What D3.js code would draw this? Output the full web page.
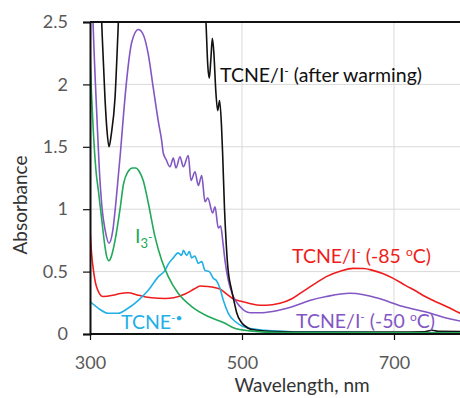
<!DOCTYPE html>
<html>
<head>
<meta charset="utf-8">
<script src="https://cdn.jsdelivr.net/npm/d3@7"></script>
<style>
  body { margin: 0; background: #fff; }
  text { font-family: Lato, "Open Sans", sans-serif; }
</style>
</head>
<body>
<div id="chart"></div>
<script>
// spectra: [wavelength nm, absorbance]
const afterWarming = [
  [300, 3.6], [310, 3.3], [313, 2.9], [316, 2.4], [319.7, 1.89], [322.5, 1.62], [325, 1.5],
  [328, 1.6], [332.9, 1.89], [337, 2.45], [340, 2.9], [345, 3.4], [440, 3.4], [449, 2.9],
  [452.6, 2.5], [455, 2.15], [457, 2.05], [459, 2.2], [461, 2.37], [463, 2.25], [465.5, 1.95],
  [468, 1.79], [470.5, 1.87], [473, 1.67], [474.6, 1.43], [477, 1.0], [479, 0.75], [481, 0.56],
  [486.4, 0.35], [490, 0.25], [493, 0.17], [499.6, 0.09], [505, 0.06], [510.5, 0.04], [520, 0.03],
  [540, 0.02], [600, 0.015], [700, 0.015], [740, 0.018], [750, 0.03], [758, 0.022], [800, 0.02]
];
const minus50 = [
  [300, 3.4], [304, 2.5], [309, 1.75], [312, 1.35], [316, 1.0], [320, 0.83], [325, 0.727],
  [330, 0.83], [334, 1.05], [337, 1.25], [340, 1.45], [344, 1.75], [348, 2.02], [355, 2.34],
  [363.6, 2.44], [370, 2.4], [376.7, 2.24], [383.3, 1.97], [390, 1.7], [394.3, 1.55],
  [396.4, 1.45], [400, 1.4], [405.3, 1.34], [409.6, 1.41], [413.2, 1.33], [418.4, 1.42],
  [422.8, 1.34], [429.3, 1.43], [432.9, 1.23], [438.2, 1.3], [442.5, 1.19], [447, 1.27],
  [451.3, 1.06], [455, 1.09], [461.4, 0.97], [464.5, 1.02], [468.8, 0.85], [472, 0.865],
  [474.6, 0.75], [477.6, 0.59], [482, 0.43], [488.6, 0.3], [497.4, 0.22], [510.5, 0.17],
  [524, 0.17], [540, 0.18], [567, 0.22], [590, 0.27], [611, 0.3], [642, 0.326], [660, 0.315],
  [677, 0.29], [712, 0.22], [748, 0.166], [770, 0.126], [800, 0.09]
];
const minus85 = [
  [300, 0.84], [302, 0.65], [305, 0.49], [309, 0.37], [317, 0.3], [330, 0.31], [340, 0.325],
  [350, 0.33], [364, 0.31], [381, 0.29], [399, 0.285], [410, 0.29], [425, 0.32], [437, 0.36],
  [445, 0.385], [455, 0.38], [465, 0.37], [471, 0.36], [480, 0.32], [489, 0.28], [500, 0.26],
  [510, 0.245], [524, 0.23], [540, 0.235], [550, 0.246], [565, 0.28], [580, 0.34], [595, 0.4],
  [611, 0.46], [630, 0.505], [646, 0.526], [660, 0.525], [672, 0.51], [685, 0.485], [699, 0.446],
  [715, 0.39], [730, 0.34], [741, 0.3], [751, 0.27], [769, 0.22], [787, 0.166], [800, 0.13]
];
const tcneRadical = [
  [300, 0.26], [311, 0.206], [324, 0.166], [337, 0.166], [350, 0.206], [363.6, 0.27],
  [376.7, 0.35], [390, 0.46], [398.7, 0.51], [403, 0.56], [409.6, 0.61], [416, 0.65],
  [420.6, 0.63], [422.8, 0.67], [427.2, 0.63], [430.7, 0.66], [433.8, 0.61], [438, 0.625],
  [442.5, 0.566], [447, 0.58], [451.3, 0.51], [457, 0.5], [462.3, 0.446], [466, 0.43],
  [471, 0.366], [475.4, 0.27], [482, 0.166], [491, 0.1], [501.7, 0.06], [510, 0.045],
  [530, 0.03], [560, 0.02], [600, 0.015], [700, 0.01], [800, 0.01]
];
const triiodide = [
  [300, 2.25], [302, 1.92], [304.4, 1.62], [308, 1.3], [311, 1.15], [315.4, 0.92], [319.7, 0.7],
  [322, 0.62], [325, 0.587], [328, 0.62], [333, 0.75], [339.5, 1.0], [344, 1.2], [350, 1.3],
  [356, 1.33], [360, 1.33], [365, 1.3], [370, 1.23], [376.7, 1.05], [385.5, 0.78], [394.3, 0.59],
  [403, 0.46], [416, 0.326], [433.8, 0.22], [455.7, 0.14], [477.6, 0.086], [488.6, 0.05],
  [510, 0.025], [550, 0.012], [800, 0.01]
];

const xTicks = [300, 500, 700];
const yTicks = [0, 0.5, 1, 1.5, 2, 2.5];

const series = [
  { data: minus85, color: "#f01c1c" },
  { data: minus50, color: "#8256c4" },
  { data: tcneRadical, color: "#22b0e6" },
  { data: afterWarming, color: "#111111" },
  { data: triiodide, color: "#22a85a" }
];

const width = 460, height = 398;
const plotLeft = 90, plotTop = 22, plotBottom = 334;

const svg = d3.select("#chart").append("svg")
  .attr("width", width)
  .attr("height", height);

const x = d3.scaleLinear().domain([300, 800]).range([plotLeft, 470]);
const y = d3.scaleLinear().domain([0, 2.5]).range([plotBottom, plotTop]);

// grid
svg.append("g").selectAll("line")
  .data(yTicks.filter(d => d > 0 && d < 2.5))
  .join("line")
  .attr("x1", plotLeft).attr("x2", width)
  .attr("y1", d => y(d)).attr("y2", d => y(d))
  .attr("stroke", "#d9d9d9");
svg.append("g").selectAll("line")
  .data(xTicks.filter(d => d > 300))
  .join("line")
  .attr("x1", d => x(d)).attr("x2", d => x(d))
  .attr("y1", plotTop).attr("y2", plotBottom)
  .attr("stroke", "#d9d9d9");

svg.append("clipPath").attr("id", "plot")
  .append("rect").attr("x", plotLeft).attr("y", plotTop)
  .attr("width", width - plotLeft).attr("height", plotBottom - plotTop);

const line = d3.line()
  .x(d => x(d[0]))
  .y(d => y(d[1]))
  .curve(d3.curveMonotoneX);

svg.append("g").attr("clip-path", "url(#plot)")
  .selectAll("path")
  .data(series)
  .join("path")
  .attr("d", s => line(s.data))
  .attr("fill", "none")
  .attr("stroke", s => s.color)
  .attr("stroke-width", 1.6);

// top frame
svg.append("line")
  .attr("x1", plotLeft).attr("x2", width)
  .attr("y1", plotTop).attr("y2", plotTop)
  .attr("stroke", "#111").attr("stroke-width", 2);

const xAxis = svg.append("g")
  .attr("transform", `translate(0,${plotBottom})`)
  .call(d3.axisBottom(x).tickValues(xTicks).tickSize(6).tickPadding(16).tickFormat(d3.format("d")));
const yAxis = svg.append("g")
  .attr("transform", `translate(${plotLeft},0)`)
  .call(d3.axisLeft(y).tickValues(yTicks).tickSize(7).tickPadding(15).tickFormat(d => String(d)));

[xAxis, yAxis].forEach(a => {
  a.select(".domain").attr("stroke", "#111").attr("stroke-width", 2);
  a.selectAll(".tick line").attr("stroke", "#111").attr("stroke-width", 1.2);
  a.selectAll(".tick text").attr("fill", "#595959").attr("font-size", 18)
    .attr("font-family", "Lato, sans-serif");
});
xAxis.select(".domain").attr("d", `M${plotLeft},0H${width}`);

svg.append("text")
  .attr("x", 302).attr("y", 392)
  .attr("text-anchor", "middle")
  .attr("font-size", 19).attr("fill", "#333")
  .text("Wavelength, nm");

svg.append("text")
  .attr("transform", "translate(27,205) rotate(-90)")
  .attr("text-anchor", "middle")
  .attr("font-size", 19).attr("fill", "#333")
  .text("Absorbance");

// curve labels
function label(xp, yp, color, parts) {
  const t = svg.append("text").attr("x", xp).attr("y", yp)
    .attr("fill", color).attr("font-size", 19.5);
  parts.forEach(p => {
    const ts = t.append("tspan").text(p.t);
    if (p.sup) ts.attr("font-size", 12).attr("dy", -7);
    if (p.sub) ts.attr("font-size", 13).attr("dy", 5);
    if (p.back) ts.attr("dy", p.back);
  });
}

label(220, 82, "#111", [{ t: "TCNE/I" }, { t: "-", sup: true }, { t: " (after warming)", back: 7 }]);
label(292, 263, "#f01c1c", [{ t: "TCNE/I" }, { t: "-", sup: true }, { t: " (-85 ", back: 7 }, { t: "o", sup: true }, { t: "C)", back: 7 }]);
label(296, 328, "#8256c4", [{ t: "TCNE/I" }, { t: "-", sup: true }, { t: " (-50 ", back: 7 }, { t: "o", sup: true }, { t: "C)", back: 7 }]);
label(121, 329, "#22b0e6", [{ t: "TCNE" }, { t: "-•", sup: true }]);
label(135, 243, "#22a85a", [{ t: "I" }, { t: "3", sub: true }, { t: "-", sup: true }]);
</script>
</body>
</html>
